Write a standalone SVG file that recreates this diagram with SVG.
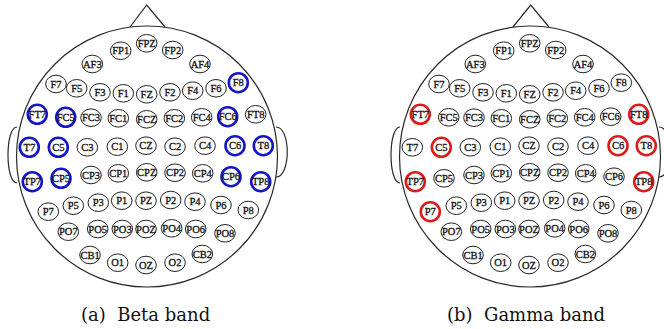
<svg xmlns="http://www.w3.org/2000/svg" width="664" height="329" viewBox="0 0 664 329">
<defs>
<style>
.head{fill:none;stroke:#2a2a2a;stroke-width:1.2}
.n ellipse{fill:#fff;stroke:#222;stroke-width:1}
.b ellipse{fill:#fff;stroke:#1414c8;stroke-width:2.6}
.r ellipse{fill:#fff;stroke:#dc1c1c;stroke-width:2.6}
.n text,.b text,.r text{font-family:"Liberation Serif",serif;font-size:10.5px;text-anchor:middle;fill:#111;stroke:#111;stroke-width:0.3}
.cap{font-family:"DejaVu Serif",serif;font-size:18px;fill:#111}
</style>
</defs>
<rect width="664" height="329" fill="#fff"/>
<g id="headA">
<g id="outlineA">
<circle class="head" cx="147" cy="156.5" r="130.5"/>
<polyline class="head" points="130,27 146.7,5 165,27"/>
<path class="head" d="M17,127 C5,127 5,183 17,183"/>
<path class="head" d="M276,127 C291,127 291,177 276,177"/>
</g>
<g id="A_FP1" class="n" transform="translate(120.7,50.7)"><ellipse rx="10.3" ry="8.8"/><text y="3.7">FP1</text></g>
<g id="A_FPZ" class="n" transform="translate(146.7,43.3)"><ellipse rx="10.3" ry="8.8"/><text y="3.7">FPZ</text></g>
<g id="A_FP2" class="n" transform="translate(172.7,50)"><ellipse rx="10.3" ry="8.8"/><text y="3.7">FP2</text></g>
<g id="A_AF3" class="n" transform="translate(92.3,64)"><ellipse rx="10.3" ry="8.8"/><text y="3.7">AF3</text></g>
<g id="A_AF4" class="n" transform="translate(200,64)"><ellipse rx="10.3" ry="8.8"/><text y="3.7">AF4</text></g>
<g id="A_F7" class="n" transform="translate(56,84)"><ellipse rx="10.3" ry="8.8"/><text y="3.7">F7</text></g>
<g id="A_F5" class="n" transform="translate(76.7,88.3)"><ellipse rx="10.3" ry="8.8"/><text y="3.7">F5</text></g>
<g id="A_F3" class="n" transform="translate(100,92.3)"><ellipse rx="10.3" ry="8.8"/><text y="3.7">F3</text></g>
<g id="A_F1" class="n" transform="translate(123.3,93.3)"><ellipse rx="10.3" ry="8.8"/><text y="3.7">F1</text></g>
<g id="A_FZ" class="n" transform="translate(146.7,94.3)"><ellipse rx="10.3" ry="8.8"/><text y="3.7">FZ</text></g>
<g id="A_F2" class="n" transform="translate(170,92.3)"><ellipse rx="10.3" ry="8.8"/><text y="3.7">F2</text></g>
<g id="A_F4" class="n" transform="translate(192.7,90.7)"><ellipse rx="10.3" ry="8.8"/><text y="3.7">F4</text></g>
<g id="A_F6" class="n" transform="translate(216,88.3)"><ellipse rx="10.3" ry="8.8"/><text y="3.7">F6</text></g>
<g id="A_F8" class="b" transform="translate(238.3,82.7)"><ellipse rx="9.5" ry="9.5"/><text y="3.7">F8</text></g>
<g id="A_FT7" class="b" transform="translate(37.3,114.3)"><ellipse rx="9.5" ry="9.5"/><text y="3.7">FT7</text></g>
<g id="A_FC5" class="b" transform="translate(65.7,117.3)"><ellipse rx="9.5" ry="9.5"/><text y="3.7">FC5</text></g>
<g id="A_FC3" class="n" transform="translate(91,117.7)"><ellipse rx="10.3" ry="8.8"/><text y="3.7">FC3</text></g>
<g id="A_FC1" class="n" transform="translate(118.3,118.3)"><ellipse rx="10.3" ry="8.8"/><text y="3.7">FC1</text></g>
<g id="A_FCZ" class="n" transform="translate(146.7,119.3)"><ellipse rx="10.3" ry="8.8"/><text y="3.7">FCZ</text></g>
<g id="A_FC2" class="n" transform="translate(174.3,118.3)"><ellipse rx="10.3" ry="8.8"/><text y="3.7">FC2</text></g>
<g id="A_FC4" class="n" transform="translate(201.7,117.3)"><ellipse rx="10.3" ry="8.8"/><text y="3.7">FC4</text></g>
<g id="A_FC6" class="b" transform="translate(227.7,116.7)"><ellipse rx="9.5" ry="9.5"/><text y="3.7">FC6</text></g>
<g id="A_FT8" class="n" transform="translate(255.7,114.3)"><ellipse rx="10.3" ry="8.8"/><text y="3.7">FT8</text></g>
<g id="A_T7" class="b" transform="translate(29.3,147.3)"><ellipse rx="9.5" ry="9.5"/><text y="3.7">T7</text></g>
<g id="A_C5" class="b" transform="translate(58.3,147.3)"><ellipse rx="9.5" ry="9.5"/><text y="3.7">C5</text></g>
<g id="A_C3" class="n" transform="translate(87.3,147.3)"><ellipse rx="10.3" ry="8.8"/><text y="3.7">C3</text></g>
<g id="A_C1" class="n" transform="translate(117.3,146.7)"><ellipse rx="10.3" ry="8.8"/><text y="3.7">C1</text></g>
<g id="A_CZ" class="n" transform="translate(146,145.7)"><ellipse rx="10.3" ry="8.8"/><text y="3.7">CZ</text></g>
<g id="A_C2" class="n" transform="translate(175,146.7)"><ellipse rx="10.3" ry="8.8"/><text y="3.7">C2</text></g>
<g id="A_C4" class="n" transform="translate(205,145.7)"><ellipse rx="10.3" ry="8.8"/><text y="3.7">C4</text></g>
<g id="A_C6" class="b" transform="translate(235,145.7)"><ellipse rx="9.5" ry="9.5"/><text y="3.7">C6</text></g>
<g id="A_T8" class="b" transform="translate(263.3,145.7)"><ellipse rx="9.5" ry="9.5"/><text y="3.7">T8</text></g>
<g id="A_TP7" class="b" transform="translate(32.3,181.7)"><ellipse rx="9.5" ry="9.5"/><text y="3.7">TP7</text></g>
<g id="A_CP5" class="b" transform="translate(61,178.3)"><ellipse rx="9.5" ry="9.5"/><text y="3.7">CP5</text></g>
<g id="A_CP3" class="n" transform="translate(91,175)"><ellipse rx="10.3" ry="8.8"/><text y="3.7">CP3</text></g>
<g id="A_CP1" class="n" transform="translate(118.3,173.3)"><ellipse rx="10.3" ry="8.8"/><text y="3.7">CP1</text></g>
<g id="A_CPZ" class="n" transform="translate(146.7,172.3)"><ellipse rx="10.3" ry="8.8"/><text y="3.7">CPZ</text></g>
<g id="A_CP2" class="n" transform="translate(175,172.7)"><ellipse rx="10.3" ry="8.8"/><text y="3.7">CP2</text></g>
<g id="A_CP4" class="n" transform="translate(202.7,173.3)"><ellipse rx="10.3" ry="8.8"/><text y="3.7">CP4</text></g>
<g id="A_CP6" class="b" transform="translate(231,176.7)"><ellipse rx="9.5" ry="9.5"/><text y="3.7">CP6</text></g>
<g id="A_TP8" class="b" transform="translate(260.7,181.7)"><ellipse rx="9.5" ry="9.5"/><text y="3.7">TP8</text></g>
<g id="A_P7" class="n" transform="translate(48.3,211.7)"><ellipse rx="10.3" ry="8.8"/><text y="3.7">P7</text></g>
<g id="A_P5" class="n" transform="translate(73.3,205.7)"><ellipse rx="10.3" ry="8.8"/><text y="3.7">P5</text></g>
<g id="A_P3" class="n" transform="translate(98.3,202.7)"><ellipse rx="10.3" ry="8.8"/><text y="3.7">P3</text></g>
<g id="A_P1" class="n" transform="translate(121.7,200.7)"><ellipse rx="10.3" ry="8.8"/><text y="3.7">P1</text></g>
<g id="A_PZ" class="n" transform="translate(146,200.7)"><ellipse rx="10.3" ry="8.8"/><text y="3.7">PZ</text></g>
<g id="A_P2" class="n" transform="translate(170.7,200)"><ellipse rx="10.3" ry="8.8"/><text y="3.7">P2</text></g>
<g id="A_P4" class="n" transform="translate(195,201.7)"><ellipse rx="10.3" ry="8.8"/><text y="3.7">P4</text></g>
<g id="A_P6" class="n" transform="translate(221,205)"><ellipse rx="10.3" ry="8.8"/><text y="3.7">P6</text></g>
<g id="A_P8" class="n" transform="translate(248.3,210)"><ellipse rx="10.3" ry="8.8"/><text y="3.7">P8</text></g>
<g id="A_PO7" class="n" transform="translate(68.3,231.7)"><ellipse rx="10.3" ry="8.8"/><text y="3.7">PO7</text></g>
<g id="A_PO5" class="n" transform="translate(97.7,229)"><ellipse rx="10.3" ry="8.8"/><text y="3.7">PO5</text></g>
<g id="A_PO3" class="n" transform="translate(122.3,229)"><ellipse rx="10.3" ry="8.8"/><text y="3.7">PO3</text></g>
<g id="A_POZ" class="n" transform="translate(146,229)"><ellipse rx="10.3" ry="8.8"/><text y="3.7">POZ</text></g>
<g id="A_PO4" class="n" transform="translate(171.7,228.3)"><ellipse rx="10.3" ry="8.8"/><text y="3.7">PO4</text></g>
<g id="A_PO6" class="n" transform="translate(195.7,229)"><ellipse rx="10.3" ry="8.8"/><text y="3.7">PO6</text></g>
<g id="A_PO8" class="n" transform="translate(225,233.3)"><ellipse rx="10.3" ry="8.8"/><text y="3.7">PO8</text></g>
<g id="A_CB1" class="n" transform="translate(90,255)"><ellipse rx="10.3" ry="8.8"/><text y="3.7">CB1</text></g>
<g id="A_O1" class="n" transform="translate(117.7,262.7)"><ellipse rx="10.3" ry="8.8"/><text y="3.7">O1</text></g>
<g id="A_OZ" class="n" transform="translate(146,265)"><ellipse rx="10.3" ry="8.8"/><text y="3.7">OZ</text></g>
<g id="A_O2" class="n" transform="translate(175,262.7)"><ellipse rx="10.3" ry="8.8"/><text y="3.7">O2</text></g>
<g id="A_CB2" class="n" transform="translate(202.3,254)"><ellipse rx="10.3" ry="8.8"/><text y="3.7">CB2</text></g>
<text id="capA" class="cap" x="81" y="321">(a)&#160; Beta band</text>
</g>
<g id="headB" transform="translate(383,0)">
<g id="outlineB">
<circle class="head" cx="147" cy="156.5" r="130.5"/>
<polyline class="head" points="130,27 147.7,5 166,27"/>
<path class="head" d="M17,127 C5,127 5,183 17,183"/>
<path class="head" d="M276,127 C291,127 291,177 276,177"/>
</g>
<g id="B_FP1" class="n" transform="translate(120.7,50.7)"><ellipse rx="10.3" ry="8.8"/><text y="3.7">FP1</text></g>
<g id="B_FPZ" class="n" transform="translate(146.7,43.3)"><ellipse rx="10.3" ry="8.8"/><text y="3.7">FPZ</text></g>
<g id="B_FP2" class="n" transform="translate(172.7,50)"><ellipse rx="10.3" ry="8.8"/><text y="3.7">FP2</text></g>
<g id="B_AF3" class="n" transform="translate(92.3,64)"><ellipse rx="10.3" ry="8.8"/><text y="3.7">AF3</text></g>
<g id="B_AF4" class="n" transform="translate(200,64)"><ellipse rx="10.3" ry="8.8"/><text y="3.7">AF4</text></g>
<g id="B_F7" class="n" transform="translate(56,84)"><ellipse rx="10.3" ry="8.8"/><text y="3.7">F7</text></g>
<g id="B_F5" class="n" transform="translate(76.7,88.3)"><ellipse rx="10.3" ry="8.8"/><text y="3.7">F5</text></g>
<g id="B_F3" class="n" transform="translate(100,92.3)"><ellipse rx="10.3" ry="8.8"/><text y="3.7">F3</text></g>
<g id="B_F1" class="n" transform="translate(123.3,93.3)"><ellipse rx="10.3" ry="8.8"/><text y="3.7">F1</text></g>
<g id="B_FZ" class="n" transform="translate(146.7,94.3)"><ellipse rx="10.3" ry="8.8"/><text y="3.7">FZ</text></g>
<g id="B_F2" class="n" transform="translate(170,92.3)"><ellipse rx="10.3" ry="8.8"/><text y="3.7">F2</text></g>
<g id="B_F4" class="n" transform="translate(192.7,90.7)"><ellipse rx="10.3" ry="8.8"/><text y="3.7">F4</text></g>
<g id="B_F6" class="n" transform="translate(216,88.3)"><ellipse rx="10.3" ry="8.8"/><text y="3.7">F6</text></g>
<g id="B_F8" class="n" transform="translate(238.3,82.7)"><ellipse rx="10.3" ry="8.8"/><text y="3.7">F8</text></g>
<g id="B_FT7" class="r" transform="translate(37.3,114.3)"><ellipse rx="9.5" ry="9.5"/><text y="3.7">FT7</text></g>
<g id="B_FC5" class="n" transform="translate(65.7,117.3)"><ellipse rx="10.3" ry="8.8"/><text y="3.7">FC5</text></g>
<g id="B_FC3" class="n" transform="translate(91,117.7)"><ellipse rx="10.3" ry="8.8"/><text y="3.7">FC3</text></g>
<g id="B_FC1" class="n" transform="translate(118.3,118.3)"><ellipse rx="10.3" ry="8.8"/><text y="3.7">FC1</text></g>
<g id="B_FCZ" class="n" transform="translate(146.7,119.3)"><ellipse rx="10.3" ry="8.8"/><text y="3.7">FCZ</text></g>
<g id="B_FC2" class="n" transform="translate(174.3,118.3)"><ellipse rx="10.3" ry="8.8"/><text y="3.7">FC2</text></g>
<g id="B_FC4" class="n" transform="translate(201.7,117.3)"><ellipse rx="10.3" ry="8.8"/><text y="3.7">FC4</text></g>
<g id="B_FC6" class="n" transform="translate(227.7,116.7)"><ellipse rx="10.3" ry="8.8"/><text y="3.7">FC6</text></g>
<g id="B_FT8" class="r" transform="translate(255.7,114.3)"><ellipse rx="9.5" ry="9.5"/><text y="3.7">FT8</text></g>
<g id="B_T7" class="n" transform="translate(29.3,147.3)"><ellipse rx="10.3" ry="8.8"/><text y="3.7">T7</text></g>
<g id="B_C5" class="r" transform="translate(58.3,147.3)"><ellipse rx="9.5" ry="9.5"/><text y="3.7">C5</text></g>
<g id="B_C3" class="n" transform="translate(87.3,147.3)"><ellipse rx="10.3" ry="8.8"/><text y="3.7">C3</text></g>
<g id="B_C1" class="n" transform="translate(117.3,146.7)"><ellipse rx="10.3" ry="8.8"/><text y="3.7">C1</text></g>
<g id="B_CZ" class="n" transform="translate(146,145.7)"><ellipse rx="10.3" ry="8.8"/><text y="3.7">CZ</text></g>
<g id="B_C2" class="n" transform="translate(175,146.7)"><ellipse rx="10.3" ry="8.8"/><text y="3.7">C2</text></g>
<g id="B_C4" class="n" transform="translate(205,145.7)"><ellipse rx="10.3" ry="8.8"/><text y="3.7">C4</text></g>
<g id="B_C6" class="r" transform="translate(235,145.7)"><ellipse rx="9.5" ry="9.5"/><text y="3.7">C6</text></g>
<g id="B_T8" class="r" transform="translate(263.3,145.7)"><ellipse rx="9.5" ry="9.5"/><text y="3.7">T8</text></g>
<g id="B_TP7" class="r" transform="translate(32.3,181.7)"><ellipse rx="9.5" ry="9.5"/><text y="3.7">TP7</text></g>
<g id="B_CP5" class="n" transform="translate(61,178.3)"><ellipse rx="10.3" ry="8.8"/><text y="3.7">CP5</text></g>
<g id="B_CP3" class="n" transform="translate(91,175)"><ellipse rx="10.3" ry="8.8"/><text y="3.7">CP3</text></g>
<g id="B_CP1" class="n" transform="translate(118.3,173.3)"><ellipse rx="10.3" ry="8.8"/><text y="3.7">CP1</text></g>
<g id="B_CPZ" class="n" transform="translate(146.7,172.3)"><ellipse rx="10.3" ry="8.8"/><text y="3.7">CPZ</text></g>
<g id="B_CP2" class="n" transform="translate(175,172.7)"><ellipse rx="10.3" ry="8.8"/><text y="3.7">CP2</text></g>
<g id="B_CP4" class="n" transform="translate(202.7,173.3)"><ellipse rx="10.3" ry="8.8"/><text y="3.7">CP4</text></g>
<g id="B_CP6" class="n" transform="translate(231,176.7)"><ellipse rx="10.3" ry="8.8"/><text y="3.7">CP6</text></g>
<g id="B_TP8" class="r" transform="translate(260.7,181.7)"><ellipse rx="9.5" ry="9.5"/><text y="3.7">TP8</text></g>
<g id="B_P7" class="r" transform="translate(47.3,211.7)"><ellipse rx="9.5" ry="9.5"/><text y="3.7">P7</text></g>
<g id="B_P5" class="n" transform="translate(73.3,205.7)"><ellipse rx="10.3" ry="8.8"/><text y="3.7">P5</text></g>
<g id="B_P3" class="n" transform="translate(98.3,202.7)"><ellipse rx="10.3" ry="8.8"/><text y="3.7">P3</text></g>
<g id="B_P1" class="n" transform="translate(121.7,200.7)"><ellipse rx="10.3" ry="8.8"/><text y="3.7">P1</text></g>
<g id="B_PZ" class="n" transform="translate(146,200.7)"><ellipse rx="10.3" ry="8.8"/><text y="3.7">PZ</text></g>
<g id="B_P2" class="n" transform="translate(170.7,200)"><ellipse rx="10.3" ry="8.8"/><text y="3.7">P2</text></g>
<g id="B_P4" class="n" transform="translate(195,201.7)"><ellipse rx="10.3" ry="8.8"/><text y="3.7">P4</text></g>
<g id="B_P6" class="n" transform="translate(221,205)"><ellipse rx="10.3" ry="8.8"/><text y="3.7">P6</text></g>
<g id="B_P8" class="n" transform="translate(248.3,210)"><ellipse rx="10.3" ry="8.8"/><text y="3.7">P8</text></g>
<g id="B_PO7" class="n" transform="translate(68.3,231.7)"><ellipse rx="10.3" ry="8.8"/><text y="3.7">PO7</text></g>
<g id="B_PO5" class="n" transform="translate(97.7,229)"><ellipse rx="10.3" ry="8.8"/><text y="3.7">PO5</text></g>
<g id="B_PO3" class="n" transform="translate(122.3,229)"><ellipse rx="10.3" ry="8.8"/><text y="3.7">PO3</text></g>
<g id="B_POZ" class="n" transform="translate(146,229)"><ellipse rx="10.3" ry="8.8"/><text y="3.7">POZ</text></g>
<g id="B_PO4" class="n" transform="translate(171.7,228.3)"><ellipse rx="10.3" ry="8.8"/><text y="3.7">PO4</text></g>
<g id="B_PO6" class="n" transform="translate(195.7,229)"><ellipse rx="10.3" ry="8.8"/><text y="3.7">PO6</text></g>
<g id="B_PO8" class="n" transform="translate(225,233.3)"><ellipse rx="10.3" ry="8.8"/><text y="3.7">PO8</text></g>
<g id="B_CB1" class="n" transform="translate(90,255)"><ellipse rx="10.3" ry="8.8"/><text y="3.7">CB1</text></g>
<g id="B_O1" class="n" transform="translate(117.7,262.7)"><ellipse rx="10.3" ry="8.8"/><text y="3.7">O1</text></g>
<g id="B_OZ" class="n" transform="translate(146,265)"><ellipse rx="10.3" ry="8.8"/><text y="3.7">OZ</text></g>
<g id="B_O2" class="n" transform="translate(175,262.7)"><ellipse rx="10.3" ry="8.8"/><text y="3.7">O2</text></g>
<g id="B_CB2" class="n" transform="translate(202.3,254)"><ellipse rx="10.3" ry="8.8"/><text y="3.7">CB2</text></g>
<text id="capB" class="cap" x="64" y="321">(b)&#160; Gamma band</text>
</g>
<g id="connectors"/>
</svg>
